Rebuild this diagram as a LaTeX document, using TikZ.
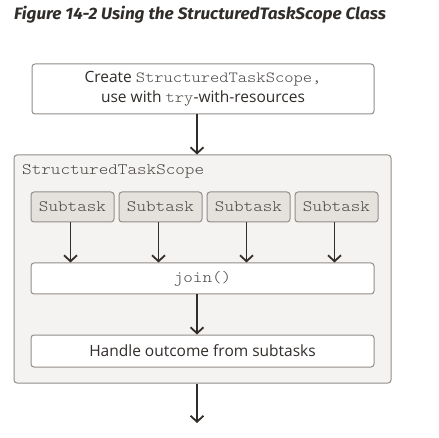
\documentclass[tikz,border=0pt]{standalone}
\usepackage{fontspec}
\setmainfont{Open Sans}
\newfontfamily\titlefont{Fira Sans}[FakeStretch=1.04]
\setmonofont{lmmonolt10-regular}[Extension=.otf,FakeStretch=1.14]
\usetikzlibrary{arrows.meta}
\definecolor{ink}{HTML}{312D2A}
\definecolor{monoc}{HTML}{4A4643}
\definecolor{edge}{HTML}{938D88}
\definecolor{contfill}{HTML}{F4F3F1}
\definecolor{subfill}{HTML}{E5E2DE}
\newcommand{\mc}[1]{{\ttfamily\color{monoc}#1}}
\tikzset{
  box/.style={draw=edge, line width=1pt, rounded corners=3pt, fill=white, inner sep=0pt, align=center, text=ink, font=\fontsize{15.5}{20}\selectfont},
  subbox/.style={box, fill=subfill, minimum width=83pt, minimum height=30pt},
  widebox/.style={box, minimum width=343pt, minimum height=31pt},
  arr/.style={draw=ink, line width=1.8pt, -{Straight Barb[length=6pt,width=13pt,line width=1.8pt]}},
  monotext/.style={font=\fontsize{16}{18}\selectfont},
}
\begin{document}
\begin{tikzpicture}[x=1pt,y=1pt]
\useasboundingbox (0,0) rectangle (439,-438);
\node[anchor=base west, text=ink, inner sep=0pt, font=\titlefont\fontsize{16.5}{18}\selectfont\bfseries\itshape] (title) at (14,-20) {Figure 14-2 Using the StructuredTaskScope Class};
\node[box, minimum width=342pt, minimum height=50pt] (create) at (203,-89) {Create \mc{StructuredTaskScope,}\\use with \mc{try}-with-resources};
\node[box, fill=contfill, minimum width=377pt, minimum height=228pt] (cont) at (202.5,-269) {};
\node[anchor=west, inner sep=0pt, monotext] (lbl) at (22,-171) {\mc{StructuredTaskScope}};
\node[subbox, monotext] (s1) at (72.5,-207) {\mc{Subtask}};
\node[subbox, monotext] (s2) at (160.5,-207) {\mc{Subtask}};
\node[subbox, monotext] (s3) at (248.5,-207) {\mc{Subtask}};
\node[subbox, monotext] (s4) at (336.5,-207) {\mc{Subtask}};
\node[widebox, monotext] (join) at (202.5,-278.5) {\mc{join()}};
\node[widebox, minimum height=32pt] (handle) at (202.5,-351) {Handle outcome from subtasks};
\coordinate (ax) at (197,0);
\coordinate (out) at (197,-423);
\draw[arr] (create.south -| ax) -- (cont.north -| ax);
\foreach \i in {1,2,3,4} { \draw[arr] ([xshift=-2pt]s\i.south) -- ([xshift=-2pt]s\i.south |- join.north); }
\draw[arr] (join.south -| ax) -- (handle.north -| ax);
\draw[arr] (cont.south -| ax) -- (out);
\end{tikzpicture}
\end{document}
